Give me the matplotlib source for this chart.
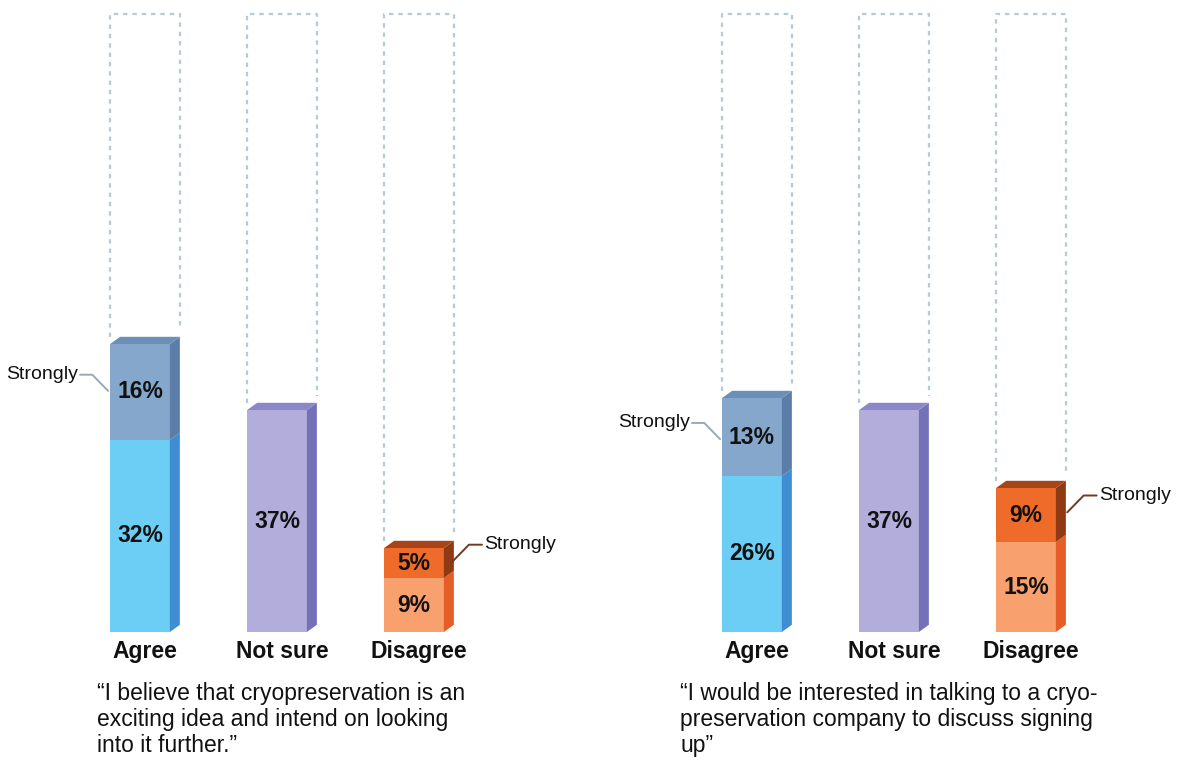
import matplotlib
matplotlib.use("Agg")
import matplotlib.pyplot as plt
from matplotlib.patches import Polygon

plt.rcParams['font.family'] = ['Liberation Sans', 'DejaVu Sans']

# ---- data -------------------------------------------------------------
categories = ["Agree", "Not sure", "Disagree"]

# panel 1: "exciting idea" statement
p1_base = [32, 37, 9]          # agree / not sure / disagree (non-strong part)
p1_strong = [16, 0, 5]         # "strongly" part stacked on top
p1_quote = ("\u201cI believe that cryopreservation is an\n"
            "exciting idea and intend on looking\n"
            "into it further.\u201d")

# panel 2: "talk to a company" statement
p2_base = [26, 37, 15]
p2_strong = [13, 0, 9]
p2_quote = ("\u201cI would be interested in talking to a cryo-\n"
            "preservation company to discuss signing\n"
            "up\u201d")

strong_label = "Strongly"

# ---- style ------------------------------------------------------------
front_colors = ["#6ccdf5", "#b2addb", "#f8a06e"]
side_colors = ["#3f8dd3", "#7471b8", "#e55d27"]
strong_front = ["#84a7cb", None, "#ef6b29"]
strong_side = ["#5a7ea8", None, "#8f3a13"]
strong_top = ["#6b8fb7", "#8b87c9", "#a6451a"]
outline_color = "#b3ccd6"
text_color = "#111111"

FRONT_W = 0.436     # front face width (category units)
DEPTH_X = 0.073     # side face depth
DEPTH_Y = 1.2       # vertical offset of the back edge (percent units)
FULL_H = 103        # height of the dashed outline box

W_PX, H_PX = 1178, 762
fig = plt.figure(figsize=(W_PX / 100, H_PX / 100), dpi=100)

SPACING_PX = 137.0
PX_PER_PCT = 6.0
BASE_PX = 632


def prism(ax, x0, y0, y1, front, side, top=None, z=3):
    x1 = x0 + FRONT_W
    ax.add_patch(Polygon([(x0, y0), (x1, y0), (x1, y1), (x0, y1)],
                         closed=True, facecolor=front, edgecolor='none', zorder=z))
    ax.add_patch(Polygon([(x1, y0), (x1 + DEPTH_X, y0 + DEPTH_Y),
                          (x1 + DEPTH_X, y1 + DEPTH_Y), (x1, y1)],
                         closed=True, facecolor=side, edgecolor='none', zorder=z))
    if top is not None:
        ax.add_patch(Polygon([(x0, y1), (x0 + DEPTH_X, y1 + DEPTH_Y),
                              (x1 + DEPTH_X, y1 + DEPTH_Y), (x1, y1)],
                             closed=True, facecolor=top, edgecolor='none', zorder=z))


def panel(left_px, first_center_px, base, strong, quote, quote_dx, dis_dx):
    ax = fig.add_axes([left_px / W_PX, 0, (W_PX / 2) / W_PX, 1])
    ax.set_xlim(-first_center_px / SPACING_PX, (W_PX / 2 - first_center_px) / SPACING_PX)
    ax.set_ylim(-(H_PX - BASE_PX) / PX_PER_PCT, BASE_PX / PX_PER_PCT)
    ax.axis('off')

    half = (FRONT_W + DEPTH_X) / 2
    for i, cat in enumerate(categories):
        x0 = i - half
        xr = x0 + FRONT_W + DEPTH_X
        b, s = base[i], strong[i]
        total = b + s
        # dashed 100% outline, visible only above the bar
        ax.plot([x0, x0, xr, xr], [total + DEPTH_Y, FULL_H, FULL_H, total + 2 * DEPTH_Y],
                color=outline_color, linestyle=(0, (2.0, 2.2)), linewidth=1.6,
                zorder=1)
        if s > 0:
            prism(ax, x0, 0, b, front_colors[i], side_colors[i])
            prism(ax, x0, b, total, strong_front[i], strong_side[i], strong_top[i])
        else:
            prism(ax, x0, 0, b, front_colors[i], side_colors[i], strong_top[i])
        cx = x0 + FRONT_W / 2
        ax.text(cx, b / 2, f"{b}%", ha='center', va='center', fontsize=16.5,
                fontweight='bold', color=text_color, zorder=5)
        if s > 0:
            ax.text(cx, b + s / 2, f"{s}%", ha='center', va='center', fontsize=16.5,
                    fontweight='bold', color=text_color, zorder=5)
        ax.text(i, -3.2, cat, ha='center', va='center', fontsize=16.5,
                fontweight='bold', color=text_color)

    # "Strongly" callout on the agree bar (left side)
    a_x0 = -half
    ya = base[0] + strong[0] * 0.68
    ax.plot([a_x0 - 0.22, a_x0 - 0.13, a_x0 - 0.015],
            [ya, ya, ya - 2.7],
            color='#9aa9b3', linewidth=1.4, solid_capstyle='round', zorder=4)
    ax.text(a_x0 - 0.235, ya, strong_label, ha='right', va='center',
            fontsize=14, color=text_color)

    # "Strongly" callout on the disagree bar (right side)
    d_x1 = 2 - half + FRONT_W + DEPTH_X + dis_dx
    yd = base[2] + strong[2] * 0.55
    ax.plot([d_x1 - 0.01, d_x1 + 0.11, d_x1 + 0.205],
            [yd, yd + 2.8, yd + 2.8],
            color='#6e3b22', linewidth=1.4, solid_capstyle='round', zorder=4)
    ax.text(d_x1 + 0.22, yd + 2.8, strong_label, ha='left',
            va='center', fontsize=14, color=text_color)

    # statement under the bars
    ax.text(-half + quote_dx, -8.4, quote, ha='left', va='top', fontsize=16.5,
            color=text_color, linespacing=1.16)
    return ax


panel(0, 145, p1_base, p1_strong, p1_quote, -0.095, 0.0)
panel(W_PX / 2, 168, p2_base, p2_strong, p2_quote, -0.307, 0.02)

fig.savefig("out.png", dpi=100, facecolor='white')
